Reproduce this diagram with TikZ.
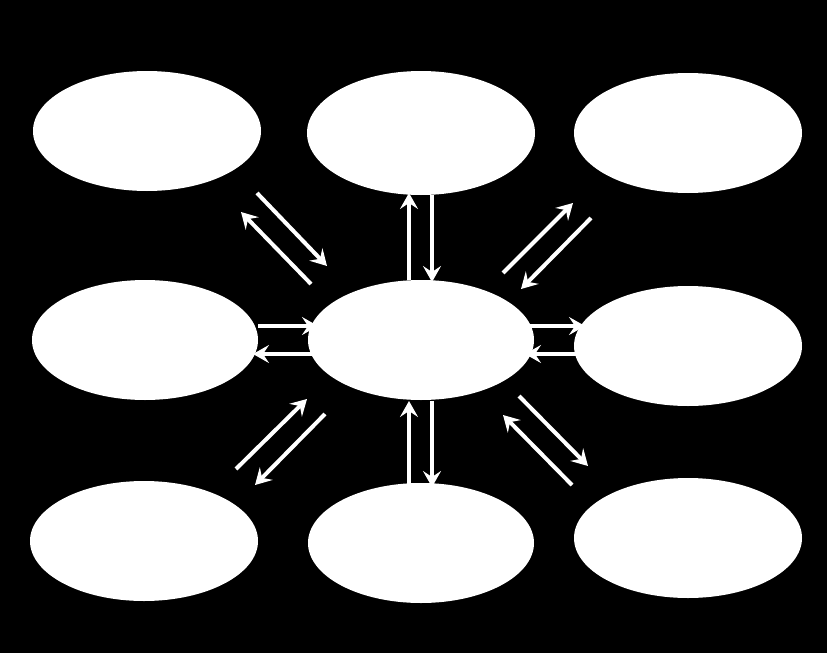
\documentclass[tikz,border=0pt]{standalone}
\usetikzlibrary{arrows.meta,shapes.geometric}
\begin{document}
\begin{tikzpicture}[x=1pt,y=-1pt,
  ell/.style={ellipse,fill=white,draw=none,inner sep=0pt},
  arr/.style={white,line width=4pt,-{Stealth[length=16pt,width=18pt,inset=6pt]}}]
\fill[black] (0,0) rectangle (827,653);
\useasboundingbox (0,0) rectangle (827,653);
% arrows
\draw[arr] (311,284) -- (241,212);
\draw[arr] (257,193) -- (327,266);
\draw[arr] (409,280) -- (409,193);
\draw[arr] (432,195) -- (432,282);
\draw[arr] (503,273) -- (573,203);
\draw[arr] (591,218) -- (521,289);
\draw[arr] (258,326) -- (318,326);
\draw[arr] (313,354) -- (253,354);
\draw[arr] (530,326) -- (585,326);
\draw[arr] (580,354) -- (525,354);
\draw[arr] (236,469) -- (307,399);
\draw[arr] (325,414) -- (255,485);
\draw[arr] (409,485) -- (409,401);
\draw[arr] (432,401) -- (432,487);
\draw[arr] (519,396) -- (588,466);
\draw[arr] (572,485) -- (503,415);
% ellipses
\node[ell,minimum width=228pt,minimum height=120pt] (tl) at (147,131) {};
\node[ell,minimum width=228pt,minimum height=124pt] (tm) at (421,133) {};
\node[ell,minimum width=228pt,minimum height=120pt] (tr) at (688,133) {};
\node[ell,minimum width=226pt,minimum height=120pt] (ml) at (145,340) {};
\node[ell,minimum width=226pt,minimum height=120pt] (c) at (421,340) {};
\node[ell,minimum width=228pt,minimum height=120pt] (mr) at (688,346) {};
\node[ell,minimum width=228pt,minimum height=120pt] (bl) at (144,541) {};
\node[ell,minimum width=226pt,minimum height=120pt] (bm) at (421,543) {};
\node[ell,minimum width=228pt,minimum height=120pt] (br) at (688,538) {};
\end{tikzpicture}
\end{document}
